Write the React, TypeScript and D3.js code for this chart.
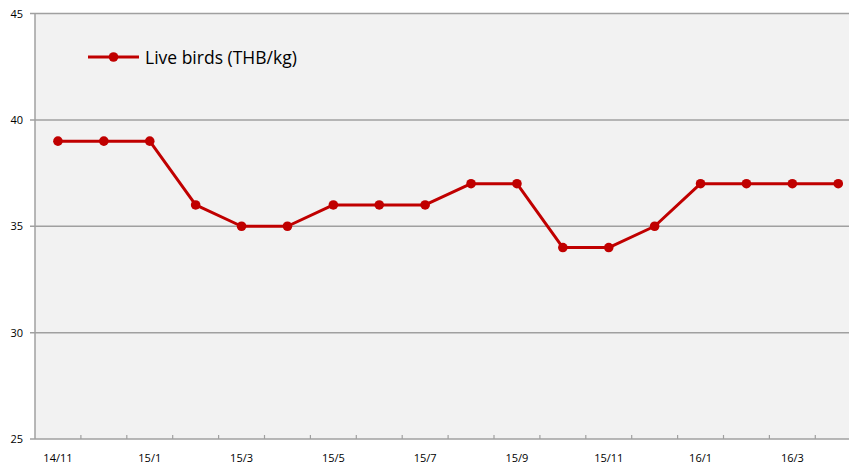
import React from 'react';
import * as d3 from 'd3';

// months shown on the x axis, one point per month
const months = [
  '14/11', '14/12', '15/1', '15/2', '15/3', '15/4', '15/5', '15/6', '15/7',
  '15/8', '15/9', '15/10', '15/11', '15/12', '16/1', '16/2', '16/3', '16/4',
];
const liveBirds = [39, 39, 39, 36, 35, 35, 36, 36, 36, 37, 37, 34, 34, 35, 37, 37, 37, 37];
const yTicks = [25, 30, 35, 40, 45];
const seriesName = 'Live birds (THB/kg)';

const W = 849;
const H = 465;
const left = 35;
const top = 13.5;
const bottom = 439;
const red = '#c00000';
const font = '"Open Sans", sans-serif';

export default function App() {
  const x = d3.scaleBand<string>().domain(months).range([left, left + 45.9 * months.length]);
  const y = d3.scaleLinear().domain([25, 45]).range([bottom, top]);
  const cx = (m: string) => (x(m) as number) + x.bandwidth() / 2;

  const line = d3
    .line<number>()
    .x((_, i) => cx(months[i]))
    .y((d) => y(d));

  return (
    <svg width={W} height={H} style={{ position: 'absolute', left: 0, top: 0, display: 'block' }}>
      <rect x={left} y={top} width={W - left} height={bottom - top} fill="#f2f2f2" />
      {yTicks.map((t) => (
        <g key={t}>
          <line x1={left - 5} x2={W} y1={y(t)} y2={y(t)} stroke="#a0a0a0" strokeWidth={1.5} />
          <text x={23} y={y(t) + 4} textAnchor="end" fontSize={11} fontFamily={font} fill="#000">
            {t}
          </text>
        </g>
      ))}
      <line x1={left} x2={left} y1={top} y2={bottom} stroke="#a0a0a0" strokeWidth={1.5} />
      {months.map((m, i) => (
        <g key={m}>
          <line
            x1={(x(m) as number) + x.bandwidth()}
            x2={(x(m) as number) + x.bandwidth()}
            y1={bottom}
            y2={bottom - 4}
            stroke="#a0a0a0"
            strokeWidth={1.2}
          />
          {i % 2 === 0 && (
            <text x={cx(m)} y={bottom + 23} textAnchor="middle" fontSize={11} fontFamily={font} fill="#000">
              {m}
            </text>
          )}
        </g>
      ))}
      <path d={line(liveBirds) ?? ''} fill="none" stroke={red} strokeWidth={3} strokeLinejoin="round" />
      {liveBirds.map((v, i) => (
        <circle key={i} cx={cx(months[i])} cy={y(v)} r={4.8} fill={red} />
      ))}
      <g>
        <line x1={88} x2={139} y1={57} y2={57} stroke={red} strokeWidth={3} />
        <circle cx={113.5} cy={57} r={4.8} fill={red} />
        <text x={145} y={63.5} fontSize={17.5} fontFamily={font} fill="#000">
          {seriesName}
        </text>
      </g>
    </svg>
  );
}
